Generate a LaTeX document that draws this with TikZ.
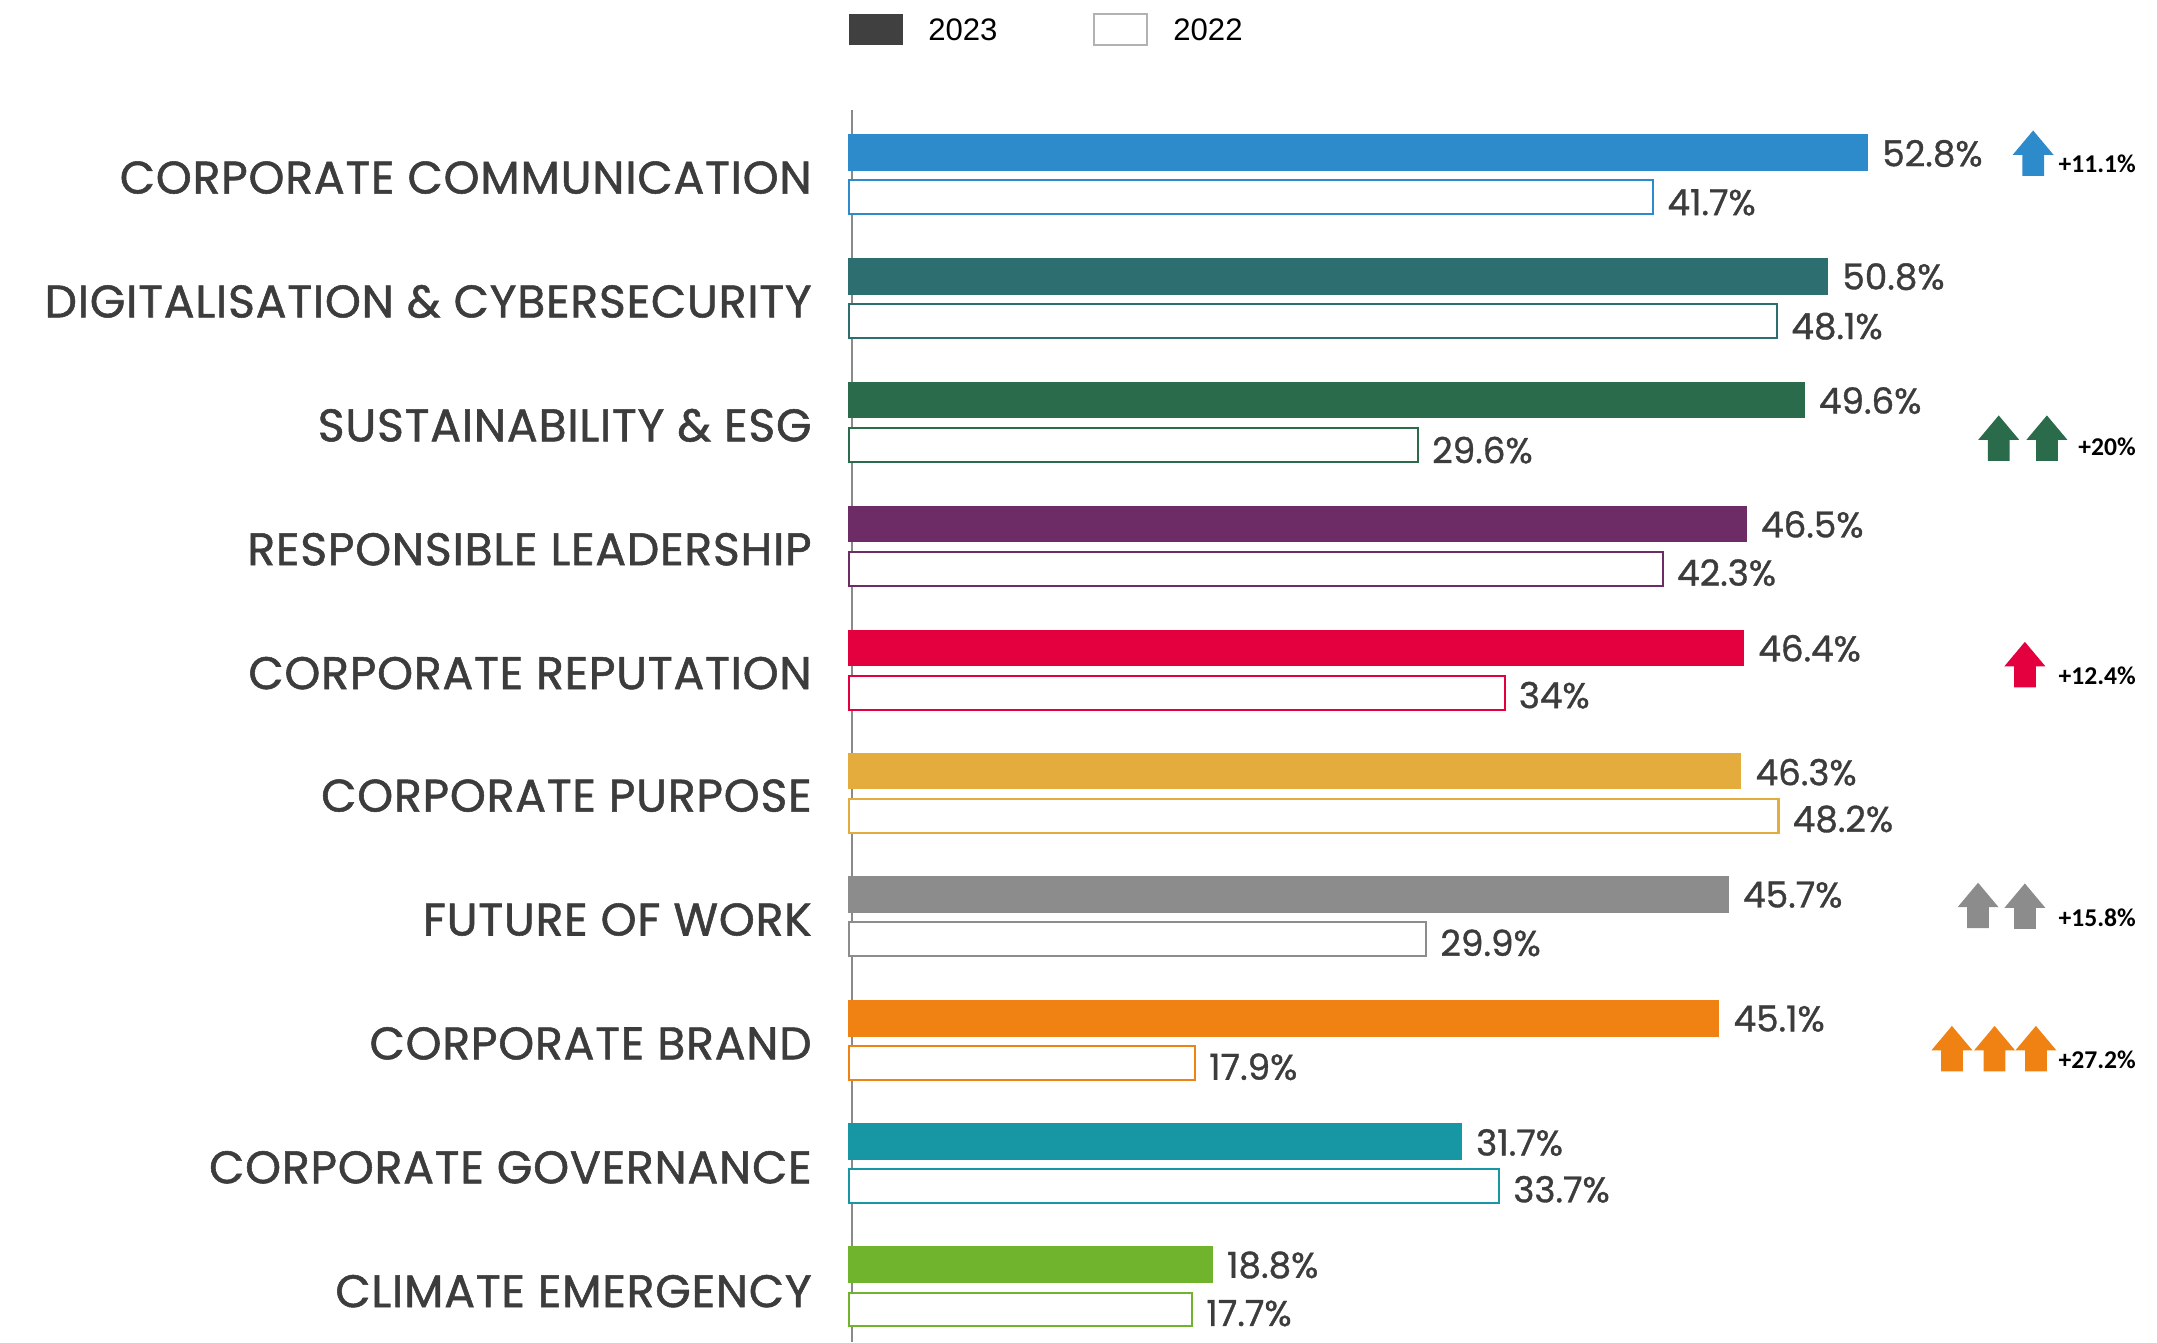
\documentclass[tikz,border=0pt]{standalone}
\usepackage{fontspec}
\usepackage{tikz}
\usetikzlibrary{shapes, shapes.arrows, positioning}
\newfontfamily\topicfont{Poppins}[FakeBold=1.2, LetterSpace=1.8]
\newfontfamily\valuefont{Poppins}[FakeBold=1]
\newfontfamily\legendfont{Liberation Sans}
\newfontfamily\deltafont{Carlito}

\definecolor{txtgray}{HTML}{3C3C3C}
\definecolor{axisgray}{HTML}{8A8A8A}
\definecolor{legdark}{HTML}{404040}
\definecolor{ccomm}{HTML}{2E8BCB}
\definecolor{cdigi}{HTML}{2D6E70}
\definecolor{csust}{HTML}{2A6B4C}
\definecolor{clead}{HTML}{6E2C66}
\definecolor{crepu}{HTML}{E4003F}
\definecolor{cpurp}{HTML}{E3AC3C}
\definecolor{cwork}{HTML}{8C8C8C}
\definecolor{cbran}{HTML}{EF8212}
\definecolor{cgove}{HTML}{1796A4}
\definecolor{cclim}{HTML}{6FB42C}

\tikzset{
	every node/.style={
		align=center,
	},
	topic/.style={anchor=east, inner sep=0pt, text=txtgray, font=\topicfont\fontsize{16.6}{18}\selectfont},
	value/.style={anchor=west, inner sep=0pt, text=txtgray, font=\valuefont\fontsize{13}{15}\selectfont},
	delta/.style={anchor=base east, inner sep=0pt, font=\deltafont\bfseries\fontsize{9.3}{11}\selectfont},
	uparrow/.style={single arrow, rotate=90, fill=#1, inner xsep=0pt, inner ysep=3.75pt, minimum height=16.5pt, minimum width=14.5pt, single arrow head extend=3.5pt, single arrow tip angle=80},
}
\tikzstyle{old bar} = [fill=white, line width=0.75pt]
\tikzstyle{legend text} = [anchor=west, inner sep=0pt, font=\legendfont\fontsize{11.3}{13}\selectfont]

\begin{document}
\begin{tikzpicture}[x=0.5pt, y=-0.5pt]
		\useasboundingbox (0,0) rectangle (1567,975);
		
		% legend
		\fill[legdark] (617,10) rectangle (656,33);
		\node[legend text] (leg-new) at (674,22) {2023};
		\draw[gray!60, line width=0.7pt] (795,10.5) rectangle (833,32.5);
		\node[legend text] (leg-old) at (852,22) {2022};
		
		\draw[axisgray, line width=0.8pt] (619,80) -- (619,975);
		
		\node[topic] (comm) at (590,129) {CORPORATE COMMUNICATION};
		\fill[ccomm] (616,97.5) rectangle (1357,124);
		\draw[old bar, draw=ccomm] (617,131) rectangle (1201,155.5);
		\node[value] (comm-new) at (1367,111.5) {52.8\%};
		\node[value] (comm-old) at (1211,147) {41.7\%};
		
		\node[topic] (digi) at (590,219) {DIGITALISATION \& CYBERSECURITY};
		\fill[cdigi] (616,187.5) rectangle (1328,214);
		\draw[old bar, draw=cdigi] (617,221) rectangle (1291,245.5);
		\node[value] (digi-new) at (1338,201) {50.8\%};
		\node[value] (digi-old) at (1301,237) {48.1\%};
		
		\node[topic] (sust) at (590,309) {SUSTAINABILITY \& ESG};
		\fill[csust] (616,277.5) rectangle (1311,304);
		\draw[old bar, draw=csust] (617,311) rectangle (1030,335.5);
		\node[value] (sust-new) at (1321,291) {49.6\%};
		\node[value] (sust-old) at (1040,327) {29.6\%};
		
		\node[topic] (lead) at (590,399) {RESPONSIBLE LEADERSHIP};
		\fill[clead] (616,367.5) rectangle (1269,394);
		\draw[old bar, draw=clead] (617,401) rectangle (1208,425.5);
		\node[value] (lead-new) at (1279,381) {46.5\%};
		\node[value] (lead-old) at (1218,416) {42.3\%};
		
		\node[topic] (repu) at (590,489) {CORPORATE REPUTATION};
		\fill[crepu] (616,457.5) rectangle (1267,484);
		\draw[old bar, draw=crepu] (617,491) rectangle (1093,515.5);
		\node[value] (repu-new) at (1277,471) {46.4\%};
		\node[value] (repu-old) at (1103,505) {34\%};
		
		\node[topic] (purp) at (590,578) {CORPORATE PURPOSE};
		\fill[cpurp] (616,547) rectangle (1265,573.5);
		\draw[old bar, draw=cpurp] (617,580.5) rectangle (1292,605);
		\node[value] (purp-new) at (1275,561) {46.3\%};
		\node[value] (purp-old) at (1302,595) {48.2\%};
		
		\node[topic] (work) at (590,668) {FUTURE OF WORK};
		\fill[cwork] (616,636.5) rectangle (1256,663);
		\draw[old bar, draw=cwork] (617,670) rectangle (1036,694.5);
		\node[value] (work-new) at (1266,650) {45.7\%};
		\node[value] (work-old) at (1046,685) {29.9\%};
		
		\node[topic] (bran) at (590,758) {CORPORATE BRAND};
		\fill[cbran] (616,726.5) rectangle (1249,753);
		\draw[old bar, draw=cbran] (617,760) rectangle (868,784.5);
		\node[value] (bran-new) at (1259,740) {45.1\%};
		\node[value] (bran-old) at (878,775) {17.9\%};
		
		\node[topic] (gove) at (590,848) {CORPORATE GOVERNANCE};
		\fill[cgove] (616,816) rectangle (1062,842.5);
		\draw[old bar, draw=cgove] (617,849.5) rectangle (1089,874);
		\node[value] (gove-new) at (1072,830) {31.7\%};
		\node[value] (gove-old) at (1099,864) {33.7\%};
		
		\node[topic] (clim) at (590,938) {CLIMATE EMERGENCY};
		\fill[cclim] (616,905.5) rectangle (881,932);
		\draw[old bar, draw=cclim] (617,939) rectangle (866,963.5);
		\node[value] (clim-new) at (891,919) {18.8\%};
		\node[value] (clim-old) at (876,954) {17.7\%};
		
		% growth markers
		\node[uparrow=ccomm] (comm-up) at (1477,116) {};
		\node[delta] (comm-delta) at (1552,125) {+11.1\%};
		\node[uparrow=csust] (sust-up1) at (1452,323) {};
		\node[uparrow=csust] (sust-up2) at (1487,323) {};
		\node[delta] (sust-delta) at (1552,331) {+20\%};
		\node[uparrow=crepu] (repu-up) at (1471,487.5) {};
		\node[delta] (repu-delta) at (1552,497) {+12.4\%};
		\node[uparrow=cwork] (work-up1) at (1437,662.5) {};
		\node[uparrow=cwork] (work-up2) at (1471,663) {};
		\node[delta] (work-delta) at (1552,673) {+15.8\%};
		\node[uparrow=cbran] (bran-up1) at (1418,766.5) {};
		\node[uparrow=cbran] (bran-up2) at (1449,766.5) {};
		\node[uparrow=cbran] (bran-up3) at (1479,766.5) {};
		\node[delta] (bran-delta) at (1552,776) {+27.2\%};
		
	\end{tikzpicture}
\end{document}
